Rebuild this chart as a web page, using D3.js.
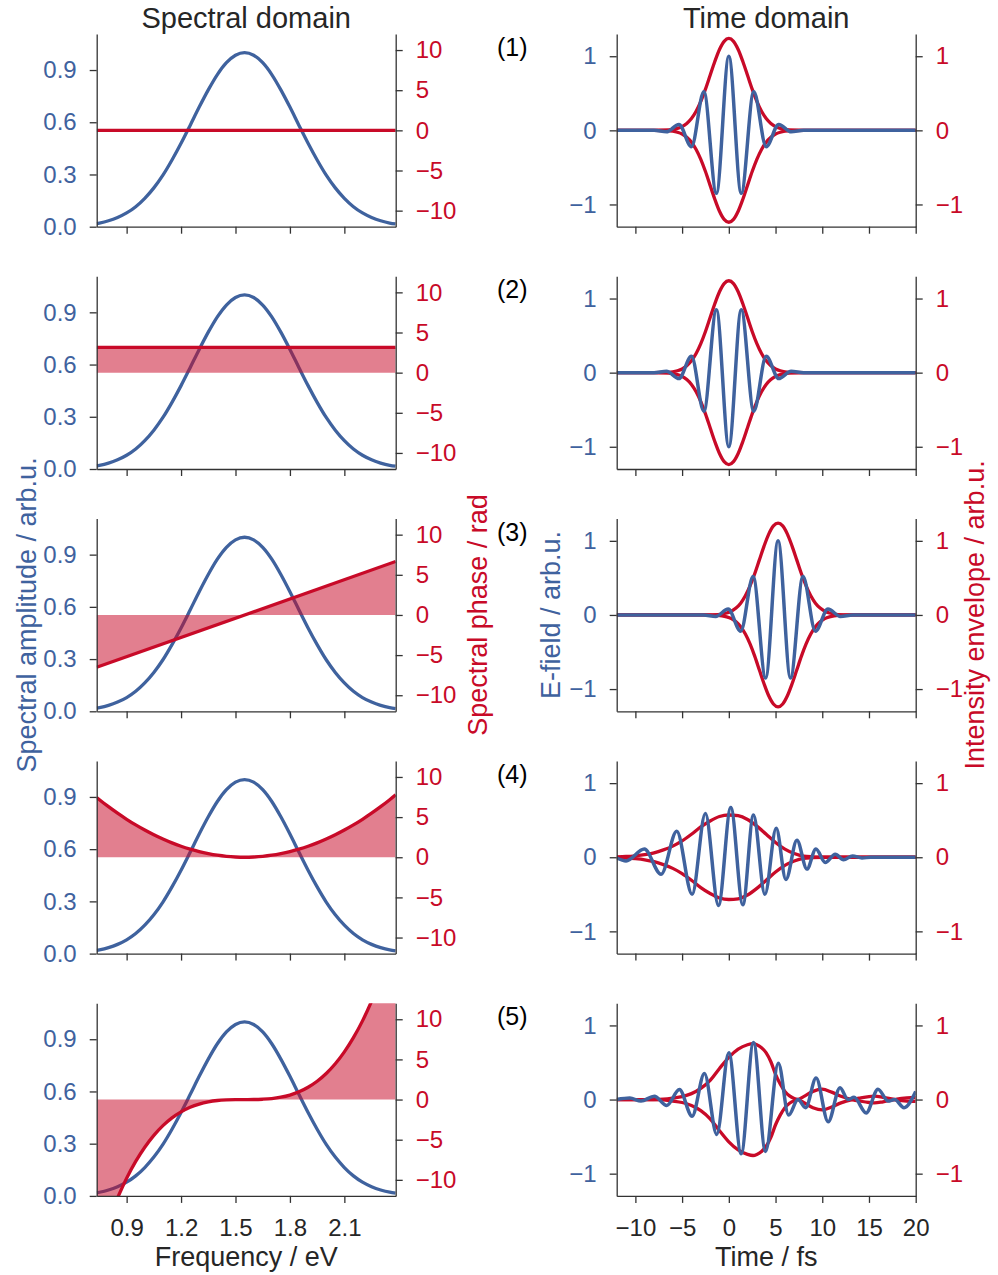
<!DOCTYPE html>
<html>
<head>
<meta charset="utf-8">
<script src="https://cdn.jsdelivr.net/npm/d3@7"></script>
<style>
  body { margin: 0; background: #fff; }
  svg { display: block; }
</style>
</head>
<body>
<div id="chart"></div>
<script>
// ---- spectral domain data (frequency in eV) ----
const freq = [0.735, 0.75, 0.80, 0.85, 0.90, 0.95, 1.00, 1.05, 1.10, 1.15, 1.20, 1.25, 1.30, 1.35, 1.40, 1.45, 1.50, 1.55,
    1.60, 1.65, 1.70, 1.75, 1.80, 1.85, 1.90, 1.95, 2.00, 2.05, 2.10, 2.15, 2.20, 2.25, 2.30, 2.35, 2.383];
const amplitude = [0.018, 0.021, 0.034, 0.053, 0.079, 0.115, 0.163, 0.223, 0.296, 0.383, 0.479, 0.582, 0.687, 0.786, 0.874, 0.942, 0.985, 1.000,
    0.985, 0.942, 0.874, 0.786, 0.687, 0.582, 0.479, 0.383, 0.296, 0.223, 0.163, 0.115, 0.079, 0.053, 0.034, 0.021, 0.016];
const freqEdges = [0.735, 2.383];
const phase1 = [0, 0];
const phase2 = [3.14, 3.14];
const phase3 = [-6.52, 6.66];
const phase4 = [7.44, 7.17, 6.30, 5.49, 4.73, 4.03, 3.39, 2.80, 2.27, 1.79, 1.37, 1.01, 0.70, 0.45, 0.25, 0.11, 0.03, 0,
    0.03, 0.11, 0.25, 0.45, 0.70, 1.01, 1.37, 1.79, 2.27, 2.80, 3.39, 4.03, 4.73, 5.49, 6.30, 7.17, 7.77];
const phase5 = [-19.33, -18.28, -15.06, -12.25, -9.80, -7.71, -5.94, -4.46, -3.25, -2.28, -1.53, -0.96, -0.56, -0.29, -0.12, -0.04, -0.004, 0,
    0.004, 0.04, 0.12, 0.29, 0.56, 0.96, 1.53, 2.28, 3.25, 4.46, 5.94, 7.71, 9.80, 12.25, 15.06, 18.28, 20.63];

// ---- time domain data (time in fs) ----
const field1T = [-12, -8, -6.67, -5.34, -4.0, -2.67, -1.33, 0, 1.33, 2.67, 4.0, 5.34, 6.67, 8, 20];
const field1 = [0, 0, -0.02, 0.08, -0.22, 0.52, -0.85, 1.0, -0.85, 0.52, -0.22, 0.08, -0.02, 0, 0];
const field2 = [0, 0, 0.02, -0.08, 0.22, -0.52, 0.85, -1.0, 0.85, -0.52, 0.22, -0.08, 0.02, 0, 0];
const field3T = [-12, -2.73, -1.4, -0.07, 1.27, 2.6, 3.94, 5.27, 6.6, 7.94, 9.27, 10.61, 11.94, 13.27, 20];
const field3 = [0, 0, -0.02, 0.08, -0.22, 0.52, -0.85, 1.0, -0.85, 0.52, -0.22, 0.08, -0.02, 0, 0];
const field4T = [-12, -11.0, -9.04, -7.25, -5.57, -3.93, -2.51, -1.11, 0.21, 1.50, 2.64, 3.86, 5.07, 6.11, 7.29, 8.36,
    9.32, 10.32, 11.39, 12.28, 13.24, 14.25, 15.2, 20];
const field4 = [-0.01, -0.05, 0.11, -0.23, 0.35, -0.50, 0.59, -0.65, 0.67, -0.64, 0.57, -0.50, 0.39, -0.30, 0.23, -0.16,
    0.11, -0.07, 0.04, -0.035, 0.018, -0.01, 0, 0];
const field5T = [-12, -10.6, -9.4, -7.97, -6.64, -5.29, -3.93, -2.61, -1.29, 0, 1.32, 2.64, 3.93, 5.3, 6.4, 7.4, 8.22,
    9.34, 10.63, 11.9, 12.75, 13.4, 14.7, 15.96, 17.05, 17.75, 18.75, 20];
const field5 = [0, 0.02, -0.02, 0.045, -0.08, 0.135, -0.225, 0.35, -0.47, 0.63, -0.73, 0.77, -0.70, 0.49, -0.21, 0.0, -0.11,
    0.29, -0.30, 0.16, 0.0, 0.03, -0.18, 0.14, -0.02, 0.0, -0.11, 0.11];

const env1T = [-12, -8, -7, -6, -5.5, -5, -4.5, -4, -3.5, -3, -2.5, -2, -1.5, -1, -0.5, 0,
    0.5, 1, 1.5, 2, 2.5, 3, 3.5, 4, 4.5, 5, 5.5, 6, 7, 8, 20];
const env1 = [0, 0, 0.002, 0.012, 0.026, 0.050, 0.093, 0.159, 0.258, 0.391, 0.556, 0.743, 0.929, 1.091, 1.201, 1.24,
    1.201, 1.091, 0.929, 0.743, 0.556, 0.391, 0.258, 0.159, 0.093, 0.050, 0.026, 0.012, 0.002, 0, 0];
const env3T = [-12, -2.73, -1.73, -0.73, -0.23, 0.27, 0.77, 1.27, 1.77, 2.27, 2.77, 3.27, 3.77, 4.27, 4.77, 5.27,
    5.77, 6.27, 6.77, 7.27, 7.77, 8.27, 8.77, 9.27, 9.77, 10.27, 10.77, 11.27, 12.27, 13.27, 20];
const env4T = [-12, -11, -10, -9, -8, -7, -6, -5, -4, -3, -2, -1, 0, 1, 2, 3, 4, 5, 6, 7, 8, 9, 10, 20];
const env4 = [0.005, 0.01, 0.02, 0.035, 0.06, 0.10, 0.15, 0.22, 0.31, 0.41, 0.49, 0.55, 0.57, 0.56, 0.51, 0.42, 0.31, 0.20,
    0.11, 0.05, 0.015, 0.005, 0, 0];
const env5T = [-12, -8, -7, -6, -5, -4, -3, -2, -1, 0, 1, 2, 2.6, 3, 3.5, 4, 4.5, 5, 5.5, 6, 6.5, 7, 7.4, 8, 9, 10, 11, 12,
    13.2, 14, 15, 15.6, 16.5, 17.8, 18.5, 19.5, 20];
const env5 = [0, 0, 0.005, 0.02, 0.04, 0.08, 0.15, 0.26, 0.42, 0.57, 0.68, 0.74, 0.755, 0.74, 0.70, 0.63, 0.51, 0.34, 0.21,
    0.11, 0.05, 0.015, 0, -0.04, -0.11, -0.14, -0.10, -0.045, 0, 0.02, 0.04, 0.045, 0.03, 0, -0.015, -0.025, -0.025];

// ---- tick labels ----
const ampTicks = [0, 0.3, 0.6, 0.9];
const phaseTicks = [-10, -5, 0, 5, 10];
const freqTicks = [0.9, 1.2, 1.5, 1.8, 2.1];
const timeTicks = [-10, -5, 0, 5, 10, 15, 20];
const fieldTicks = [-1, 0, 1];
const rowLabels = ['(1)', '(2)', '(3)', '(4)', '(5)'];

const rows = [
    { phaseF: freqEdges, phase: phase1, fT: field1T, f: field1, eT: env1T, e: env1 },
    { phaseF: freqEdges, phase: phase2, fT: field1T, f: field2, eT: env1T, e: env1 },
    { phaseF: freqEdges, phase: phase3, fT: field3T, f: field3, eT: env3T, e: env1 },
    { phaseF: freq, phase: phase4, fT: field4T, f: field4, eT: env4T, e: env4 },
    { phaseF: freq, phase: phase5, fT: field5T, f: field5, eT: env5T, e: env5 },
];

// ---- layout / style ----
const FONT = '"Liberation Sans", Arial, Helvetica, sans-serif';
const BLUE = '#3f629e';
const RED = '#c80a28';
const DARK = '#262626';
const SPINE = '#333333';
const width = 998, height = 1275;
const leftX = [96.7, 395.7];
const rightX = [616.7, 915.7];
const top0 = 34, rowStep = 242.3, panelH = 192.7;

const svg = d3.select('#chart').append('svg')
    .attr('width', width)
    .attr('height', height)
    .attr('viewBox', [0, 0, width, height])
    .style('font-family', FONT);

const xFreq = d3.scaleLinear().domain([0.735, 2.383]).range(leftX);
const xTime = d3.scaleLinear().domain([-12, 20]).range(rightX);

function styleAxis(g, color) {
    g.attr('font-size', 24).attr('font-family', FONT);
    g.select('.domain').attr('stroke', SPINE).attr('stroke-width', 1.3);
    g.selectAll('.tick line').attr('stroke', SPINE).attr('stroke-width', 1.3);
    g.selectAll('.tick text').attr('fill', color);
}

rows.forEach((row, i) => {
    const y0 = top0 + i * rowStep;
    const y1 = y0 + panelH;
    const last = i === rows.length - 1;

    // ---------- spectral panel ----------
    const yAmp = d3.scaleLinear().domain([0, 1.107]).range([y1, y0]);
    const yPhase = d3.scaleLinear().domain([-12, 12]).range([y1, y0]);

    const clipL = 'clipL' + i;
    svg.append('clipPath').attr('id', clipL)
        .append('rect')
        .attr('x', leftX[0]).attr('y', y0)
        .attr('width', leftX[1] - leftX[0]).attr('height', panelH);

    const ampLine = d3.line()
        .x((d, k) => xFreq(freq[k]))
        .y((d) => yAmp(d))
        .curve(d3.curveMonotoneX);
    svg.append('path')
        .attr('d', ampLine(amplitude))
        .attr('fill', 'none')
        .attr('stroke', BLUE)
        .attr('stroke-width', 3.3)
        .attr('clip-path', `url(#${ clipL })`);

    const phaseArea = d3.area()
        .x((d, k) => xFreq(row.phaseF[k]))
        .y0(yPhase(0))
        .y1((d) => yPhase(d))
        .curve(d3.curveMonotoneX);
    svg.append('path')
        .attr('d', phaseArea(row.phase))
        .attr('fill', RED)
        .attr('fill-opacity', 0.52)
        .attr('clip-path', `url(#${ clipL })`);

    const phaseLine = d3.line()
        .x((d, k) => xFreq(row.phaseF[k]))
        .y((d) => yPhase(d))
        .curve(d3.curveMonotoneX);
    svg.append('path')
        .attr('d', phaseLine(row.phase))
        .attr('fill', 'none')
        .attr('stroke', RED)
        .attr('stroke-width', 3.3)
        .attr('clip-path', `url(#${ clipL })`);

    svg.append('g')
        .attr('transform', `translate(${ leftX[0] },0)`)
        .call(d3.axisLeft(yAmp).tickValues(ampTicks).tickFormat(d3.format('.1f'))
            .tickSize(7).tickSizeOuter(0).tickPadding(13))
        .call((g) => styleAxis(g, BLUE));
    svg.append('g')
        .attr('transform', `translate(${ leftX[1] },0)`)
        .call(d3.axisRight(yPhase).tickValues(phaseTicks).tickFormat(d3.format('d'))
            .tickSize(7).tickSizeOuter(0).tickPadding(13))
        .call((g) => styleAxis(g, RED));
    svg.append('g')
        .attr('transform', `translate(0,${ y1 })`)
        .call(d3.axisBottom(xFreq).tickValues(freqTicks)
            .tickFormat(last ? d3.format('.1f') : () => '')
            .tickSize(7).tickSizeOuter(0).tickPadding(16))
        .call((g) => styleAxis(g, DARK));

    // ---------- time panel ----------
    const yField = d3.scaleLinear().domain([-1.3, 1.3]).range([y1, y0]);
    const clipR = 'clipR' + i;
    svg.append('clipPath').attr('id', clipR)
        .append('rect')
        .attr('x', rightX[0]).attr('y', y0)
        .attr('width', rightX[1] - rightX[0]).attr('height', panelH);

    [1, -1].forEach((sgn) => {
        const envLine = d3.line()
            .x((d, k) => xTime(row.eT[k]))
            .y((d) => yField(sgn * d))
            .curve(d3.curveMonotoneX);
        svg.append('path')
            .attr('d', envLine(row.e))
            .attr('fill', 'none')
            .attr('stroke', RED)
            .attr('stroke-width', 3.3)
            .attr('clip-path', `url(#${ clipR })`);
    });

    const fieldLine = d3.line()
        .x((d, k) => xTime(row.fT[k]))
        .y((d) => yField(d))
        .curve(d3.curveMonotoneX);
    svg.append('path')
        .attr('d', fieldLine(row.f))
        .attr('fill', 'none')
        .attr('stroke', BLUE)
        .attr('stroke-width', 3.5)
        .attr('clip-path', `url(#${ clipR })`);

    svg.append('g')
        .attr('transform', `translate(${ rightX[0] },0)`)
        .call(d3.axisLeft(yField).tickValues(fieldTicks).tickFormat(d3.format('d'))
            .tickSize(7).tickSizeOuter(0).tickPadding(13))
        .call((g) => styleAxis(g, BLUE));
    svg.append('g')
        .attr('transform', `translate(${ rightX[1] },0)`)
        .call(d3.axisRight(yField).tickValues(fieldTicks).tickFormat(d3.format('d'))
            .tickSize(7).tickSizeOuter(0).tickPadding(13))
        .call((g) => styleAxis(g, RED));
    svg.append('g')
        .attr('transform', `translate(0,${ y1 })`)
        .call(d3.axisBottom(xTime).tickValues(timeTicks)
            .tickFormat(last ? d3.format('d') : () => '')
            .tickSize(7).tickSizeOuter(0).tickPadding(16))
        .call((g) => styleAxis(g, DARK));

    // row label
    svg.append('text')
        .attr('x', 497)
        .attr('y', y0 + 22)
        .attr('font-size', 25)
        .attr('fill', '#000')
        .text(rowLabels[i]);
});

// ---- titles and axis labels ----
const midL = (leftX[0] + leftX[1]) / 2;
const midR = (rightX[0] + rightX[1]) / 2;
const midY = top0 + (4 * rowStep + panelH) / 2;

function label(x, y, txt, color, rotate, size) {
    svg.append('text')
        .attr('transform', `translate(${ x },${ y })${ rotate ? ' rotate(-90)' : '' }`)
        .attr('text-anchor', 'middle')
        .attr('font-size', size || 27)
        .attr('fill', color)
        .text(txt);
}

label(midL, 28, 'Spectral domain', DARK, false, 29);
label(midR, 28, 'Time domain', DARK, false, 29);
label(midL, 1266, 'Frequency / eV', DARK, false);
label(midR, 1266, 'Time / fs', DARK, false);
label(36, midY, 'Spectral amplitude / arb.u.', BLUE, true);
label(487, midY, 'Spectral phase / rad', RED, true);
label(560, midY, 'E-field / arb.u.', BLUE, true);
label(984, midY, 'Intensity envelope / arb.u.', RED, true);
</script>
</body>
</html>
